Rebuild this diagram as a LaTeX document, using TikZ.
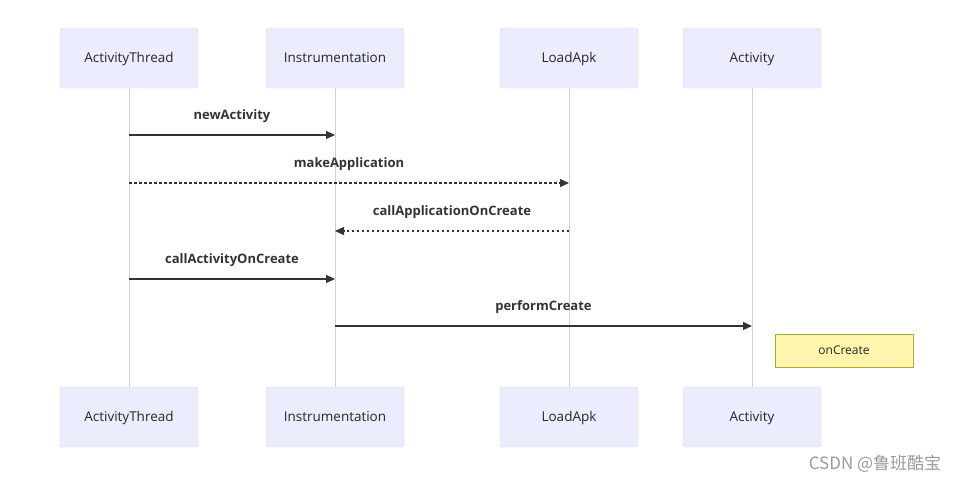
\documentclass[tikz,border=0pt]{standalone}
\usepackage{fontspec}
\setmainfont{Open Sans}
\newfontfamily\cjk{Noto Sans CJK SC}
\usetikzlibrary{arrows.meta}
\definecolor{actorfill}{HTML}{ECECFF}
\definecolor{actorline}{HTML}{D5CDF3}
\definecolor{lifegray}{HTML}{D0D0D0}
\definecolor{msgcol}{HTML}{333333}
\definecolor{notefill}{HTML}{FFF5AD}
\definecolor{noteline}{HTML}{AAAA33}
\definecolor{markgray}{HTML}{9A9A9A}
\begin{document}
\begin{tikzpicture}[x=1pt,y=-1pt,
    actor/.style={draw=actorline,fill=actorfill,rounded corners=3pt,
        minimum width=138pt,minimum height=60pt,text height=1.9ex,text depth=.3ex,
        font=\fontsize{13.5}{15}\selectfont,text=black!85},
    lifeline/.style={draw=lifegray,line width=0.9pt},
    msg/.style={draw=msgcol,line width=1.2pt,-{Triangle[length=9pt,width=8pt]}},
    reply/.style={msg,dash pattern=on 2.5pt off 2.5pt},
    msglabel/.style={font=\bfseries\fontsize{13}{15}\selectfont,text=msgcol},
    note/.style={draw=noteline,fill=notefill,minimum width=138pt,minimum height=33pt,
        text height=1.7ex,text depth=.3ex,
        font=\fontsize{12}{14}\selectfont,text=black!85}]
    \useasboundingbox (0,0) rectangle (959,482);
    % participants and lifelines
    \foreach \n/\x/\t in {at/129/ActivityThread,in/335/Instrumentation,la/569/LoadApk,ac/752/Activity} {
        \node[actor] (\n top) at (\x,58) {\t};
        \node[actor] (\n bot) at (\x,417) {\t};
        \draw[lifeline] (\n top) -- (\n bot);
    }
    % messages
    \foreach \i/\a/\b/\y/\s/\t in {1/at/in/135/msg/newActivity,
                                  2/at/la/183/reply/makeApplication,
                                  3/la/in/231/reply/callApplicationOnCreate,
                                  4/at/in/279/msg/callActivityOnCreate,
                                  5/in/ac/326/msg/performCreate} {
        \coordinate (m\i a) at (\a top |- 0,\y);
        \coordinate (m\i b) at (\b top |- 0,\y);
        \draw[\s] (m\i a) -- (m\i b) node[midway,yshift=18.5pt,msglabel] (l\i) {\t};
    }
    \node[note] (oncreate) at (844,351) {onCreate};
    \node[text=markgray,font=\cjk\fontsize{17}{19}\selectfont] (mark) at (875,464) {CSDN @鲁班酷宝};
\end{tikzpicture}
\end{document}
